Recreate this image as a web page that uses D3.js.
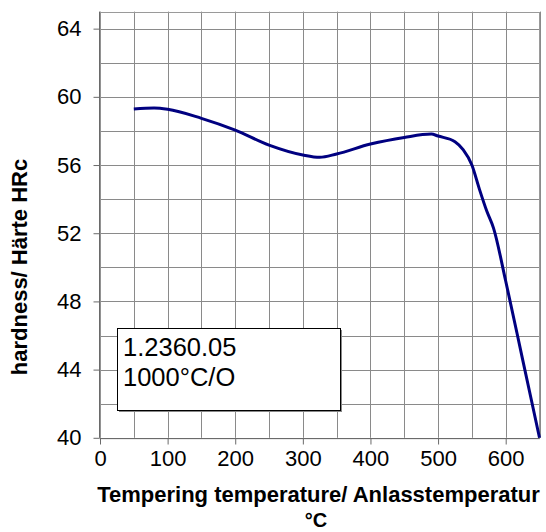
<!DOCTYPE html>
<html>
<head>
<meta charset="utf-8">
<script src="https://cdn.jsdelivr.net/npm/d3@7"></script>
<style>
  html, body { margin: 0; padding: 0; background: #fff; }
  svg { display: block; font-family: "Liberation Sans", Arial, sans-serif; }
</style>
</head>
<body>
<svg id="chart" width="546" height="532"></svg>
<script>
// Data
const temperatures = [50, 80, 100, 150, 200, 250, 300, 325, 350, 400, 450, 490, 500, 525, 537, 550, 561, 572, 582, 600, 625, 650];
const hardness     = [59.28, 59.34, 59.27, 58.74, 58.05, 57.17, 56.59, 56.45, 56.65, 57.23, 57.62, 57.82, 57.7, 57.37, 56.9, 56.0, 54.6, 53.3, 52.3, 49.2, 44.6, 40];
const xTicks = [0, 100, 200, 300, 400, 500, 600];
const yTicks = [40, 44, 48, 52, 56, 60, 64];
const xGrid = d3.range(0, 651, 50);
const yGrid = d3.range(40, 66, 2);
const labelLines = ["1.2360.05", "1000°C/O"];
const yTitle = "hardness/ Härte HRc";
const xTitleLines = ["Tempering temperature/ Anlasstemperatur", "°C"];

const svg = d3.select("#chart");
const L = 100, R = 539.5, T = 11.6, B = 437.8;
const x = d3.scaleLinear().domain([0, 650]).range([L, R]);
const y = d3.scaleLinear().domain([40, 65]).range([B, T]);

const gridColor = "#8a8a8a";
// grid
svg.append("g").selectAll("line").data(xGrid).join("line")
  .attr("x1", d => Math.round(x(d)) + 0.5).attr("x2", d => Math.round(x(d)) + 0.5)
  .attr("y1", T).attr("y2", B)
  .attr("stroke", gridColor).attr("stroke-width", 1);
svg.append("g").selectAll("line").data(yGrid).join("line")
  .attr("y1", d => Math.round(y(d)) + 0.5).attr("y2", d => Math.round(y(d)) + 0.5)
  .attr("x1", L).attr("x2", R)
  .attr("stroke", gridColor).attr("stroke-width", 1);
// frame top/right
svg.append("rect").attr("x", L).attr("y", Math.round(T) + 0.5)
  .attr("width", R - L).attr("height", B - T)
  .attr("fill", "none").attr("stroke", "#9a9a9a");

// axes
const xAxis = d3.axisBottom(x).tickValues(xTicks).tickSize(6).tickPadding(6).tickFormat(d3.format("d"));
const yAxis = d3.axisLeft(y).tickValues(yTicks).tickSize(6).tickPadding(12).tickFormat(d3.format("d"));
const gx = svg.append("g").attr("transform", `translate(0,${Math.round(B) + 0.5})`).call(xAxis);
const gy = svg.append("g").attr("transform", `translate(${Math.round(L) - 0.5},0)`).call(yAxis);
[gx, gy].forEach(g => {
  g.select(".domain").attr("stroke", "#6a6a6a");
  g.selectAll(".tick line").attr("stroke", "#6a6a6a");
  g.selectAll(".tick text").attr("font-size", 22).attr("fill", "#000")
    .attr("font-family", "'Liberation Sans', Arial, sans-serif");
});
gx.select(".domain").attr("d", `M${L},0H${R}`);
gy.select(".domain").attr("d", `M0,${T}V${B}`);

// line
const pts = temperatures.map((t, i) => [t, hardness[i]]);
svg.append("path").datum(pts)
  .attr("fill", "none").attr("stroke", "#000080").attr("stroke-width", 3)
  .attr("stroke-linejoin", "round")
  .attr("d", d3.line().x(d => x(d[0])).y(d => y(d[1])).curve(d3.curveMonotoneX));

// label box
const bx = 117.5, by = 328.5, bw = 223, bh = 82;
svg.append("rect").attr("x", bx + 1.5).attr("y", by + 1.5).attr("width", bw).attr("height", bh)
  .attr("fill", "#888");
svg.append("rect").attr("x", bx).attr("y", by).attr("width", bw).attr("height", bh)
  .attr("fill", "#fff").attr("stroke", "#000").attr("stroke-width", 1);
svg.append("g").selectAll("text").data(labelLines).join("text")
  .attr("x", 123).attr("y", (d, i) => 356 + i * 29.5)
  .attr("font-size", 25.5).attr("fill", "#000").text(d => d);

// axis titles
svg.append("text")
  .attr("transform", `translate(27,${267}) rotate(-90)`)
  .attr("text-anchor", "middle").attr("font-size", 22).attr("font-weight", "bold")
  .text(yTitle);
svg.append("text").attr("x", 318.5).attr("y", 502)
  .attr("text-anchor", "middle").attr("font-size", 22).attr("font-weight", "bold")
  .text(xTitleLines[0]);
svg.append("text").attr("x", 316).attr("y", 527)
  .attr("text-anchor", "middle").attr("font-size", 20).attr("font-weight", "bold")
  .text(xTitleLines[1]);
</script>
</body>
</html>
